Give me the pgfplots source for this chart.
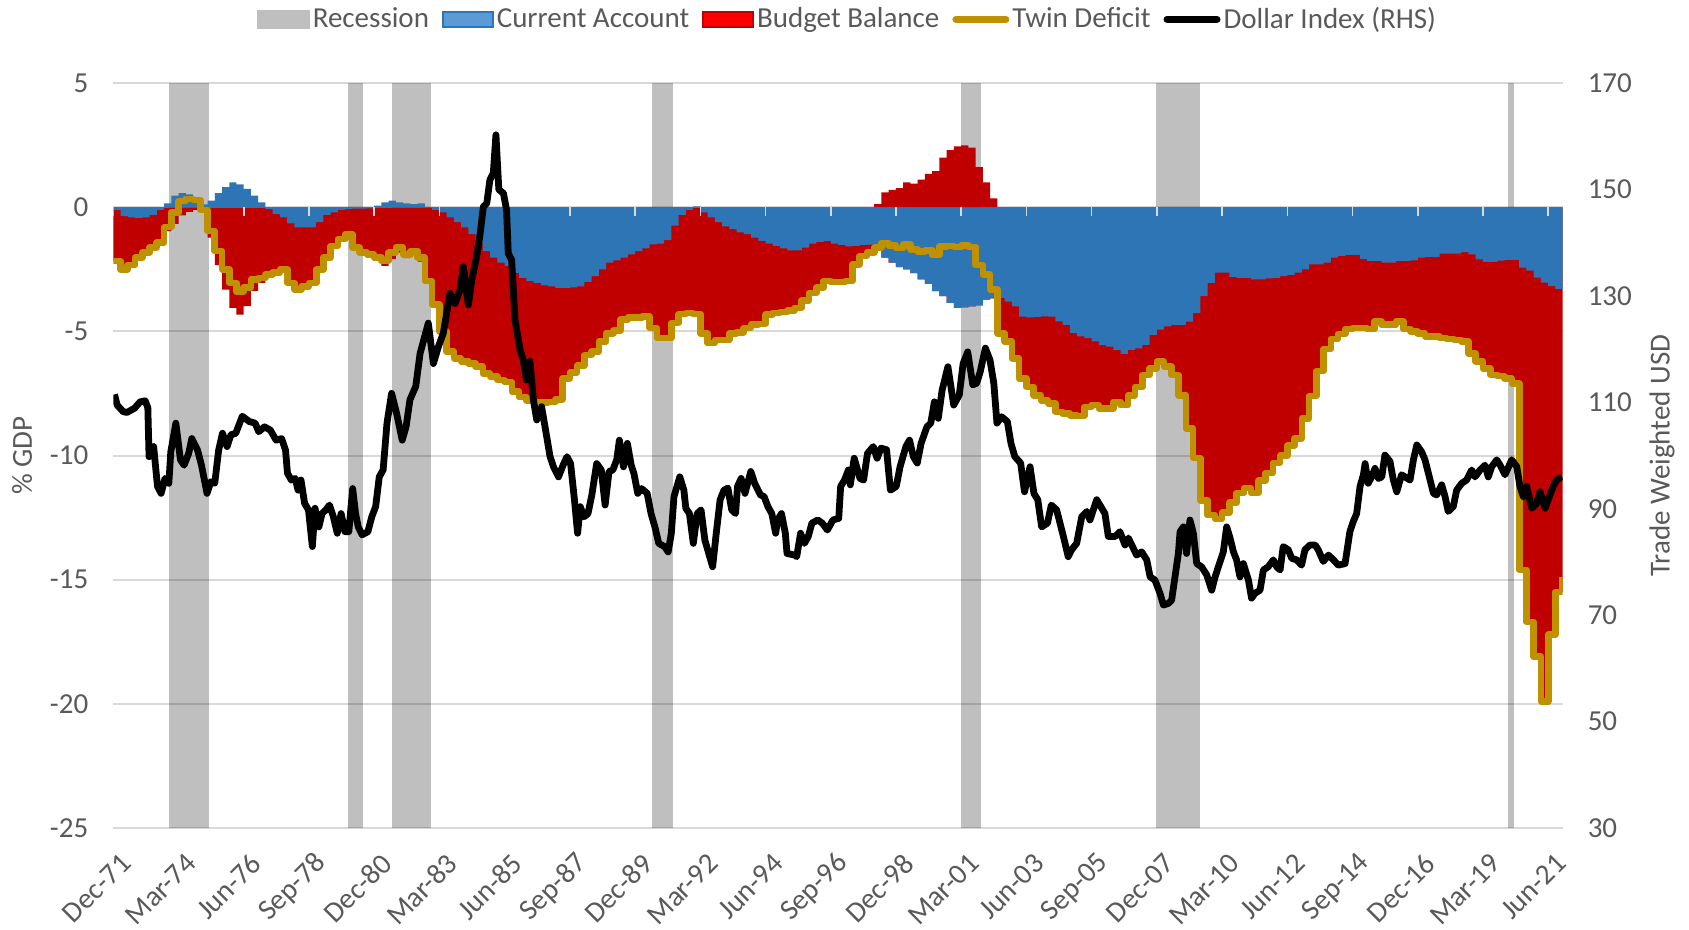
\documentclass[border=0pt]{standalone}
\usepackage{fontspec}
\setmainfont{Carlito}
\usepackage{pgfplots}
\pgfplotsset{compat=1.18}
\usepackage{pgfplotstable}
\definecolor{cablue}{HTML}{2E75B6}
\definecolor{calegend}{HTML}{5B9BD5}
\definecolor{bbred}{HTML}{C00000}
\definecolor{bblegend}{HTML}{FF0000}
\definecolor{twingold}{HTML}{BF9000}
\definecolor{gridgray}{HTML}{D9D9D9}
\definecolor{recgray}{HTML}{BFBFBF}
\definecolor{textgray}{HTML}{595959}

% quarterly data: k = quarter index from Dec-71, ca = current account, bb = budget balance (% GDP)
\pgfplotstableread{
k ca bb
0 -0.10 -2.06
1 -0.35 -2.15
2 -0.40 -1.92
3 -0.42 -1.61
4 -0.40 -1.42
5 -0.30 -1.32
6 -0.10 -1.32
7 0.16 -0.96
8 0.47 -0.67
9 0.57 -0.32
10 0.52 -0.18
11 0.40 -0.10
12 0.12 -0.22
13 0.27 -1.22
14 0.57 -2.33
15 0.81 -3.31
16 1.01 -4.05
17 0.92 -4.32
18 0.74 -3.98
19 0.47 -3.37
20 0.20 -3.04
21 -0.07 -2.63
22 -0.27 -2.36
23 -0.40 -2.10
24 -0.65 -2.39
25 -0.81 -2.49
26 -0.81 -2.37
27 -0.81 -2.23
28 -0.60 -1.90
29 -0.30 -1.73
30 -0.20 -1.35
31 -0.10 -1.18
32 -0.07 -1.01
33 -0.05 -1.57
34 -0.05 -1.77
35 -0.04 -1.85
36 0.07 -2.10
37 0.20 -2.36
38 0.27 -2.09
39 0.20 -1.82
40 0.16 -2.05
41 0.13 -1.89
42 0.16 -2.19
43 0.00 -2.97
44 -0.10 -3.82
45 -0.20 -4.80
46 -0.40 -5.41
47 -0.60 -5.48
48 -0.81 -5.39
49 -1.08 -5.20
50 -1.42 -5.00
51 -1.76 -4.93
52 -2.03 -4.79
53 -2.23 -4.73
54 -2.36 -4.67
55 -2.64 -4.79
56 -2.84 -4.80
57 -2.97 -4.80
58 -3.04 -4.80
59 -3.14 -4.72
60 -3.18 -4.66
61 -3.24 -4.49
62 -3.24 -3.65
63 -3.22 -3.43
64 -3.18 -3.20
65 -3.00 -2.95
66 -2.77 -3.04
67 -2.50 -2.91
68 -2.23 -2.84
69 -2.14 -2.83
70 -2.03 -2.50
71 -1.89 -2.54
72 -1.76 -2.67
73 -1.65 -2.74
74 -1.49 -3.37
75 -1.46 -3.81
76 -1.32 -3.95
77 -0.74 -3.92
78 -0.30 -4.00
79 -0.10 -4.16
80 0.04 -4.34
81 -0.20 -4.87
82 -0.40 -5.07
83 -0.60 -4.74
84 -0.77 -4.57
85 -0.88 -4.19
86 -1.01 -4.02
87 -1.08 -3.78
88 -1.22 -3.51
89 -1.35 -3.35
90 -1.46 -2.86
91 -1.55 -2.71
92 -1.65 -2.57
93 -1.73 -2.43
94 -1.73 -2.32
95 -1.62 -2.14
96 -1.46 -1.99
97 -1.39 -1.85
98 -1.35 -1.62
99 -1.46 -1.54
100 -1.51 -1.49
101 -1.57 -1.40
102 -1.55 -0.75
103 -1.51 -0.45
104 -1.50 -0.32
105 -1.75 0.13
106 -2.03 0.60
107 -2.23 0.70
108 -2.41 0.77
109 -2.50 1.01
110 -2.65 0.95
111 -2.90 1.12
112 -3.08 1.35
113 -3.38 1.46
114 -3.58 2.00
115 -3.85 2.30
116 -4.05 2.46
117 -4.03 2.50
118 -3.99 2.40
119 -3.95 1.62
120 -3.72 1.01
121 -3.67 0.36
122 -3.65 -1.42
123 -3.80 -1.60
124 -3.99 -2.09
125 -4.40 -2.49
126 -4.43 -2.80
127 -4.41 -3.16
128 -4.39 -3.38
129 -4.40 -3.50
130 -4.59 -3.65
131 -4.73 -3.58
132 -5.07 -3.31
133 -5.20 -3.20
134 -5.27 -2.77
135 -5.40 -2.57
136 -5.55 -2.55
137 -5.61 -2.49
138 -5.74 -2.10
139 -5.90 -2.07
140 -5.74 -1.83
141 -5.68 -1.55
142 -5.54 -1.22
143 -5.14 -1.35
144 -4.93 -1.29
145 -4.80 -1.62
146 -4.73 -2.03
147 -4.73 -2.84
148 -4.60 -4.30
149 -4.26 -5.84
150 -3.58 -8.22
151 -3.04 -9.36
152 -2.63 -9.92
153 -2.63 -9.67
154 -2.80 -9.10
155 -2.84 -8.66
156 -2.84 -8.46
157 -2.90 -8.60
158 -2.90 -8.10
159 -2.86 -7.84
160 -2.84 -7.46
161 -2.77 -7.23
162 -2.72 -6.88
163 -2.63 -6.67
164 -2.50 -6.00
165 -2.30 -5.30
166 -2.30 -4.30
167 -2.23 -3.47
168 -2.03 -3.27
169 -1.96 -3.14
170 -1.92 -2.98
171 -1.92 -2.94
172 -2.09 -2.77
173 -2.16 -2.74
174 -2.16 -2.44
175 -2.23 -2.50
176 -2.23 -2.50
177 -2.16 -2.44
178 -2.16 -2.74
179 -2.14 -2.86
180 -2.03 -3.04
181 -2.00 -3.20
182 -2.00 -3.20
183 -1.86 -3.41
184 -1.86 -3.44
185 -1.86 -3.48
186 -1.80 -3.60
187 -1.90 -3.98
188 -2.10 -4.10
189 -2.20 -4.30
190 -2.20 -4.55
191 -2.15 -4.65
192 -2.12 -4.78
193 -2.12 -4.98
194 -2.43 -12.17
195 -2.55 -14.15
196 -2.83 -15.27
197 -3.03 -16.87
198 -3.17 -14.03
199 -3.28 -12.22
200 -3.28 -11.62
}\balance

\newcommand{\chartfont}{\fontsize{14.5bp}{17.4bp}\selectfont}
\pgfplotsset{
  base/.style={
    scale only axis, width=724.7bp, height=372.4bp,
    xmin=0, xmax=600,
    axis line style={draw=none},
    tick style={draw=none},
    /pgf/number format/assume math mode=true,
    ticklabel style={font=\chartfont, text=textgray},
    label style={font=\chartfont, text=textgray},
  }
}

\begin{document}
\begin{tikzpicture}
\begin{axis}[base, name=main,
  ymin=-25, ymax=5, ytick={-25,-20,-15,-10,-5,0,5},
  ymajorgrids, grid style={gridgray, line width=1bp},
  yticklabel style={xshift=-9bp},
  xtick={1.5,28.5,55.5,82.5,109.5,136.5,163.5,190.5,217.5,244.5,271.5,298.5,325.5,352.5,379.5,406.5,433.5,460.5,487.5,514.5,541.5,568.5,595.5},
  xticklabels={Dec-71,Mar-74,Jun-76,Sep-78,Dec-80,Mar-83,Jun-85,Sep-87,Dec-89,Mar-92,Jun-94,Sep-96,Dec-98,Mar-01,Jun-03,Sep-05,Dec-07,Mar-10,Jun-12,Sep-14,Dec-16,Mar-19,Jun-21},
  xticklabel style={xshift=7bp, yshift=-13bp, rotate=45, anchor=east},
  ylabel={\% GDP},
  ylabel style={at={(axis description cs:-0.0629,0.5)}, anchor=center},
]
% recessions (months from Dec-71)
\addplot[fill=black, fill opacity=0.25, draw=none, forget plot] coordinates {(23.2,-25) (23.2,5) (39.75,5) (39.75,-25)} -- cycle;
\addplot[fill=black, fill opacity=0.25, draw=none, forget plot] coordinates {(97.3,-25) (97.3,5) (103.5,5) (103.5,-25)} -- cycle;
\addplot[fill=black, fill opacity=0.25, draw=none, forget plot] coordinates {(115.3,-25) (115.3,5) (131.6,5) (131.6,-25)} -- cycle;
\addplot[fill=black, fill opacity=0.25, draw=none, forget plot] coordinates {(222.9,-25) (222.9,5) (231.8,5) (231.8,-25)} -- cycle;
\addplot[fill=black, fill opacity=0.25, draw=none, forget plot] coordinates {(350.8,-25) (350.8,5) (359.2,5) (359.2,-25)} -- cycle;
\addplot[fill=black, fill opacity=0.25, draw=none, forget plot] coordinates {(431.6,-25) (431.6,5) (449.8,5) (449.8,-25)} -- cycle;
\addplot[fill=black, fill opacity=0.25, draw=none, forget plot] coordinates {(577.5,-25) (577.5,5) (579.9,5) (579.9,-25)} -- cycle;
% budget balance (stacked below / above current account)
\addplot[fill=bbred, draw=none, const plot mark left, forget plot]
  table[x expr=3*\thisrow{k}, y expr={min(\thisrow{ca},0)+min(\thisrow{bb},0)}] {\balance} \closedcycle;
\addplot[fill=bbred, draw=none, const plot mark left, forget plot]
  table[x expr=3*\thisrow{k}, y expr={max(\thisrow{bb},0)}] {\balance} \closedcycle;
% current account
\addplot[fill=cablue, draw=none, const plot mark left, forget plot]
  table[x expr=3*\thisrow{k}, y=ca] {\balance} \closedcycle;
% axis tick marks on the zero line
\pgfplotsinvokeforeach{0,27,54,81,108,135,162,189,216,243,270,297,324,351,378,405,432,459,486,513,540,567,594}{
  \draw[gridgray, line width=0.8bp] (axis cs:#1,0) -- ([yshift=-4.5bp]axis cs:#1,0);
}
% twin deficit
\addplot[twingold, line width=3.3bp, const plot mark left, line join=round, forget plot]
  table[x expr=3*\thisrow{k}, y expr={\thisrow{ca}+\thisrow{bb}}] {\balance};
\end{axis}

\begin{axis}[base,
  axis x line=none, axis y line*=right,
  ymin=30, ymax=170, ytick={30,50,70,90,110,130,150,170},
  yticklabel style={xshift=9bp},
  ylabel={Trade Weighted USD},
  ylabel style={at={(axis description cs:1.0686,0.5)}, anchor=center},
  legend columns=5,
  legend style={at={(axis description cs:0.507,1.0857)}, anchor=center, draw=none, fill=none,
    font=\chartfont, text=textgray,
    nodes={inner sep=1.5bp},
    /tikz/every even column/.append style={column sep=5bp}},
]
\addlegendimage{legend image code/.code={\fill[recgray] (0bp,-4.4bp) rectangle (25.9bp,4.4bp);}}
\addlegendentry{Recession}
\addlegendimage{legend image code/.code={\filldraw[fill=calegend, draw=cablue, line width=1bp] (0.5bp,-3.9bp) rectangle (25.4bp,3.9bp);}}
\addlegendentry{Current Account}
\addlegendimage{legend image code/.code={\filldraw[fill=bblegend, draw=bbred, line width=1bp] (0.5bp,-3.9bp) rectangle (25.4bp,3.9bp);}}
\addlegendentry{Budget Balance}
\addlegendimage{legend image code/.code={\draw[twingold, line width=3.6bp, line cap=round] (1.8bp,0) -- (26.7bp,0);}}
\addlegendentry{Twin Deficit}
\addplot[black, line width=3.4bp, line join=round,
  legend image code/.code={\draw[black, line width=3.6bp, line cap=round] (1.8bp,0) -- (26.7bp,0);}]
coordinates {
(0.5,111.5) (1.6,109.5) (4,108.3) (5.6,108.1) (8.8,108.9) (11.1,110.1) (13.2,110.3) (14.3,109.0)
(14.8,99.8) (16.7,101.7) (18.3,94.2) (19.8,92.9) (21.4,95.7) (23,94.8) (23.8,100.7) (25.9,106.1)
(27.8,99.2) (29.3,98.2) (31.2,100.4) (32.5,103.2) (34.9,101) (36.5,98.2) (38.8,92.9) (40.4,95.1)
(42,94.8) (43.6,101) (45.2,104.2) (47.1,101.7) (48.7,103.9) (50.7,104.2) (53.4,107.4) (56.3,106.4)
(58.7,106.1) (60.2,104.5) (62.6,105.4) (65,104.8) (67.4,102.9) (69.7,103.2) (71.3,101) (72.1,96.7)
(73.7,95.4) (75.3,95.7) (76.5,93.5) (77.7,95.4) (79.2,91) (80.8,89.8) (82.4,82.9) (83.5,90.1)
(85.1,86.6) (86.4,89.1) (88,89.8) (89.5,90.7) (91.1,88.5) (92.7,85.4) (94.3,89.1) (95.9,85.7)
(97.5,85.7) (99.1,93.8) (100.3,89.1) (101.4,86.6) (103,85.1) (105.4,85.7) (107,88.5) (108.6,90.4)
(110.1,96) (111.7,97.3) (113.3,106.1) (115.2,111.7) (117.3,107.9) (119.6,102.9) (121.2,105.4) (122.8,110.5)
(125.2,113) (127,119.2) (130.4,124.9) (132.5,117.3) (134.6,120.5) (136.6,123) (139.4,130.5) (141.5,128.6)
(143.5,131.1) (144.9,135.5) (147,128.3) (148.4,133) (150.4,137.4) (151.8,141.5) (153.2,146.8) (154.6,147.4)
(155.9,151.8) (157.3,153.1) (158.4,160.3) (159.6,150) (161.5,149.3) (162.8,146.2) (163.5,138) (164.9,136.8)
(166.3,125.5) (168.4,119.9) (169.7,118) (171.1,114.2) (172.5,117.7) (173.9,110.5) (175.3,106.7) (177.3,109.2)
(179.4,103.6) (180.8,99.8) (182.2,97.9) (184.3,96) (186.2,98.2) (187.8,99.8) (189.3,98.5) (190.9,91.7)
(192.2,85.4) (193.3,90.4) (194.9,88.5) (196.5,89.1) (198.1,92.6) (200.1,98.5) (202,97.3) (203.6,90.7)
(205.2,97) (206.8,97.3) (208.4,99.2) (209.5,102.9) (211.2,97.9) (212.8,102.3) (214.4,98.2) (215.5,96.7)
(217.1,92.9) (218.7,93.8) (221,92.9) (222.6,89.1) (224.2,86.6) (225.8,83.5) (228.2,82.9) (229.7,81.9)
(231,85.4) (232.1,92.3) (234.5,96) (236.2,93.5) (237,90.1) (238.5,89.1) (240.1,83.5) (241.7,89.1)
(243.3,89.8) (244.9,84.1) (246.5,81.6) (248.1,79.1) (249.6,85.4) (251.2,91.7) (252.8,93.5) (254.4,93.9)
(256,89.8) (257.6,89.1) (258.4,94.2) (259.9,95.7) (261.5,92.9) (263.9,97) (265.5,94.8) (267.9,92.6)
(269.4,92.3) (271,90.4) (272.6,89.1) (274.2,85.4) (275,87.9) (276.6,89.1) (278.2,85.4) (278.9,81.6)
(282.1,81.3) (282.9,81) (284.5,85.4) (286.1,83.5) (287.7,84.8) (289.2,87.3) (291.6,87.9) (293.5,87.3)
(295.6,86) (297.9,87.9) (300.3,88.2) (301.1,94.2) (302.7,95.4) (304.3,97.3) (305.1,94.5) (306.7,99.5)
(309.1,95.7) (310.6,95.4) (312.2,100.4) (314.6,101.7) (316.2,99.5) (317.8,101.4) (320.1,101.1) (321.7,93.5)
(324.1,94.2) (325.7,97.9) (328.1,101.7) (329.6,102.9) (331.2,99.8) (332.8,98.6) (334.4,102.3) (336.8,105.4)
(338.4,106.1) (339.9,110.1) (341.5,107) (343.1,112.3) (345.5,116.7) (347.9,109.5) (350.2,111.4) (351.8,117.3)
(353.7,119.5) (355.8,113.3) (357.4,113.6) (358.9,115.8) (361,120.2) (362.9,118) (364.5,113.6) (365.8,106.1)
(367.7,107.3) (370.1,106.4) (371.6,102.3) (373.2,99.8) (375.6,98.6) (377.2,93.2) (379.5,97.9) (381.1,92.9)
(382.7,91.7) (384.3,86.6) (386.7,87.3) (388.3,90.7) (390.5,89.8) (393.3,84.8) (395.3,81) (396.7,82.3)
(398.8,83.5) (400.9,88.5) (403,89.5) (404.3,87.9) (405.7,89.8) (407.1,91.7) (409.2,90.1) (410.5,89.1)
(411.9,84.8) (414.7,84.8) (416.7,85.7) (418.8,83.2) (420.2,84.5) (421.6,83.2) (423.6,81.3) (425.7,81.9)
(427.8,80.4) (429.2,77.2) (431.2,76.6) (433.3,74.1) (434.7,71.9) (436.7,72.2) (438.1,72.8) (439.5,77.2)
(440.9,81.6) (441.6,85.7) (443,86.6) (444.3,81.6) (445.7,87.9) (447.1,85.4) (448.5,79.7) (450.5,79.1)
(452.6,77.6) (454.7,74.7) (456.1,77.2) (458.1,80) (459.5,81.9) (460.9,86.6) (462.3,84.5) (463.7,81.9)
(465,80.4) (466.4,77.2) (467.8,79.7) (469.9,76.6) (471.2,73.2) (472.6,74.1) (474.7,74.7) (476.1,78.5)
(478.1,79.1) (480.2,80.4) (481.6,79.1) (483,78.5) (484.3,82.9) (486.4,82.3) (487.8,80.7) (489.9,80.4)
(491.9,79.4) (493.3,82.3) (495.4,83.2) (497.5,83.2) (498.8,82.3) (500.9,80.1) (503,81.3) (505.1,80.4)
(507.1,79.4) (509.9,79.7) (511.9,85.7) (513.3,87.6) (514.7,89.1) (516.1,94.2) (517.5,96.4) (518.2,98.5)
(519.5,94.8) (520.9,96) (522.3,97.6) (523.7,95.7) (525.1,96) (526.4,100.1) (528.5,98.9) (529.9,95.4)
(531.3,93.2) (533.3,96.4) (536.8,95.4) (538.2,99.2) (539.6,102) (541.6,100.7) (543,99.2) (545.1,95.4)
(546.5,92.9) (547.8,92.6) (549.9,94.5) (551.3,92.3) (552.6,89.5) (554.7,90.4) (556.1,93.5) (558.2,94.8)
(560.2,95.4) (562.3,97.3) (563.7,96) (565.8,97.3) (567.8,98.2) (569.2,96) (570.6,97.9) (572.7,99.2)
(574.1,98.2) (576.1,96.4) (578.9,99.2) (581,97.9) (582.3,94.2) (583.7,92.3) (585.1,94.2) (587.2,90.1)
(589.2,91) (590.6,93.2) (592.7,90.1) (594.7,92.6) (596.1,94.2) (597.5,95.4) (599.6,96)
};
\addlegendentry{Dollar Index (RHS)}
\end{axis}
\pgfresetboundingbox
\path[use as bounding box] ([shift={(-56.65bp,-51bp)}]main.south west) rectangle ([shift={(63.15bp,41.6bp)}]main.north east);
\end{tikzpicture}
\end{document}
